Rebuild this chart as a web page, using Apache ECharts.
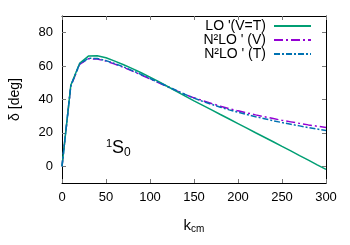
<!DOCTYPE html>
<html><head><meta charset="utf-8">
<script src="https://cdn.jsdelivr.net/npm/echarts@6/dist/echarts.min.js"></script>
<style>html,body{margin:0;padding:0;background:#fff}#c{width:350px;height:245px}</style>
</head><body><div id="c"></div>
<script>
const kValues = [0,10,20,30,40,50,60,70,80,90,100,110,120,130,140,150,160,170,180,190,200,210,220,230,240,250,260,270,280,290,300];
const loVT   = [0,48.5,61.6,66,66.2,65,63,60.8,58.5,56,53.4,50.7,47.8,44.9,42,39.2,36.5,33.8,31,28.3,25.6,22.9,20.1,17.4,14.7,11.9,9.2,6.4,3.7,0.9,-1.8];
const n2loV  = [0,48,61,64.4,64.2,63,61.2,59.2,57,54.7,52.4,50,47.6,45.3,43,41,39.3,37.6,36,34.5,33.2,32,30.8,29.7,28.6,27.5,26.6,25.7,24.8,24,23.2];
const n2loT  = [0,48.3,61.3,64.7,64.5,63.3,61.5,59.5,57.3,55,52.6,50.2,47.8,45.4,43,40.8,38.9,37.1,35.4,33.8,32.4,31,29.7,28.5,27.3,26.2,25.2,24.2,23.2,22.3,21.4];
const xTicks = [0,50,100,150,200,250,300];
const yTicks = [0,20,40,60,80];
const seriesNames = ["LO '(V=T)", "N²LO ' (V)", "N²LO ' (T)"];

const font = "Liberation Sans";
const pair = (ys) => kValues.map((k, i) => [k, ys[i]]);
const chart = echarts.init(document.getElementById('c'), null, {renderer: 'canvas'});
const tickStyle = {show: true, inside: true, length: 4, lineStyle: {color: '#777', width: 1}};
const frameLine = {show: true, onZero: false, lineStyle: {color: '#000', width: 1}};
chart.setOption({
  animation: false,
  backgroundColor: '#fff',
  grid: {left: 61, right: 24, top: 16, bottom: 62},
  legend: {
    orient: 'vertical', right: 38, top: 19, align: 'right',
    itemWidth: 37, itemHeight: 8, itemGap: 0, padding: 0,
    itemStyle: {color: 'transparent', borderWidth: 0, opacity: 0},
    textStyle: {fontFamily: font, fontSize: 14, color: '#000', lineHeight: 13.3, padding: [0, 3, 0, 0]},
    data: seriesNames
  },
  xAxis: [{
    type: 'value', min: 0, max: 300, interval: 50,
    axisLine: frameLine,
    axisTick: tickStyle, splitLine: {show: false},
    axisLabel: {fontFamily: font, fontSize: 13, color: '#000', margin: 8},
    name: '{k|k}{s|cm}', nameLocation: 'middle', nameGap: 34,
    nameTextStyle: {rich: {k: {fontFamily: font, fontSize: 15, color: '#000'},
      s: {fontFamily: font, fontSize: 10, color: '#000', verticalAlign: 'bottom', padding: [7,0,0,0]}}}
  }, {
    type: 'value', min: 0, max: 300, interval: 50, position: 'top',
    axisLine: frameLine,
    axisTick: tickStyle, axisLabel: {show: false}, splitLine: {show: false}
  }],
  yAxis: [{
    type: 'value', min: -10, max: 90,
    axisLine: frameLine,
    axisTick: Object.assign({customValues: yTicks}, tickStyle), splitLine: {show: false},
    axisLabel: {customValues: yTicks, fontFamily: font, fontSize: 13, color: '#000', margin: 9},
    name: 'δ [deg]', nameLocation: 'middle', nameGap: 40, nameRotate: 90,
    nameTextStyle: {fontFamily: font, fontSize: 14, color: '#000'}
  }, {
    type: 'value', min: -10, max: 90, position: 'right',
    axisLine: frameLine,
    axisTick: Object.assign({customValues: yTicks}, tickStyle),
    axisLabel: {show: false, customValues: yTicks}, splitLine: {show: false}
  }],
  graphic: [{
    type: 'text', left: 106, top: 138,
    style: {text: '{s|1}{S|S}{b|0}', rich: {
      s: {fontFamily: font, fontSize: 11, fill: '#000', verticalAlign: 'top', padding: [0,0,9,0]},
      S: {fontFamily: font, fontSize: 18, fill: '#000'},
      b: {fontFamily: font, fontSize: 12, fill: '#000', verticalAlign: 'bottom', padding: [9,0,0,0]}}}
  }],
  series: [
    {name: seriesNames[0], type: 'line', data: pair(loVT), symbol: 'none', symbolSize: 0, showSymbol: false,
     lineStyle: {color: '#009e73', width: 1.5}, itemStyle: {color: '#009e73'}, z: 3},
    {name: seriesNames[1], type: 'line', data: pair(n2loV), symbol: 'none', symbolSize: 0, showSymbol: false,
     lineStyle: {color: '#9400d3', width: 1.5, type: [9, 3, 2, 3]}, itemStyle: {color: '#9400d3'}, z: 2},
    {name: seriesNames[2], type: 'line', data: pair(n2loT), symbol: 'none', symbolSize: 0, showSymbol: false,
     lineStyle: {color: '#0072b2', width: 1.5, type: [6, 2, 2, 2]}, itemStyle: {color: '#0072b2'}, z: 4}
  ]
});
</script></body></html>
